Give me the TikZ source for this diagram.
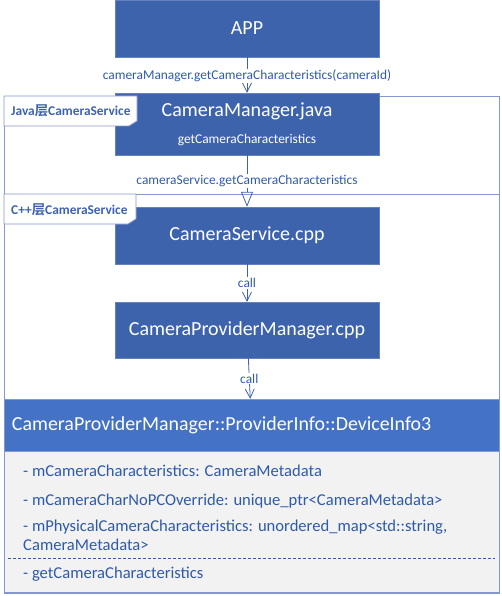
\documentclass[tikz,border=0pt]{standalone}
\usepackage{fontspec}
\setmainfont{Carlito}
\newfontfamily\cjk[BoldFont={Noto Sans CJK SC Bold}]{Noto Sans CJK SC}
\usetikzlibrary{arrows.meta}
\definecolor{unitblue}{RGB}{62,99,173}
\definecolor{headblue}{RGB}{68,114,196}
\definecolor{framec}{RGB}{132,152,206}
\definecolor{textblue}{RGB}{47,90,170}
\definecolor{bodygray}{RGB}{242,242,242}
\tikzstyle{unit}=[rectangle, fill=unitblue, draw=unitblue!80!white, text=white, minimum width=264pt, inner sep=0pt, font=\fontsize{20}{24}\selectfont]
\tikzstyle{calllabel}=[fill=white, text=textblue, inner sep=1pt, font=\fontsize{13.4}{15}\selectfont]
\tikzstyle{member}=[anchor=west, text=textblue, inner sep=0pt, font=\fontsize{16.6}{19}\selectfont]
\tikzstyle{tablabel}=[anchor=west, text=unitblue, inner sep=0pt, font=\bfseries\fontsize{13.4}{15}\selectfont]
\tikzstyle{call}=[draw=unitblue, thick, -{Straight Barb[length=9pt,width=9pt]}]
\newcommand{\unit}{\node[unit]}
\newcommand{\member}{\node[member]}

\begin{document}
\begin{tikzpicture}[x=1pt, y=-1pt]
            \useasboundingbox (0,0) rectangle (501,596);
            % frames
            \draw[framec, thick] (4,96) rectangle (499,194);
            \draw[framec, thick] (4,194) rectangle (499,593);
            % boxes
            \unit[minimum height=57pt] (app) at (247,28.5) {APP};
            \unit[minimum height=62pt, align=center] (manager) at (247,124) {CameraManager.java\\[3pt]{\fontsize{13.4}{15}\selectfont getCameraCharacteristics}};
            \unit[minimum height=57pt] (service) at (247,235.5) {CameraService.cpp};
            \unit[minimum height=56pt] (provider) at (247,330) {CameraProviderManager.cpp};
            \node[rectangle, fill=headblue, draw=framec, text=white, minimum width=495pt, minimum height=52pt, text width=479pt, inner xsep=8pt, align=left, font=\fontsize{19.9}{23}\selectfont] (devinfo) at (251.5,425) {CameraProviderManager::ProviderInfo::DeviceInfo3};
            \node[rectangle, fill=bodygray, draw=framec, minimum width=495pt, minimum height=141pt, anchor=north] (members) at (devinfo.south) {};
            \member (chars) at (23,471) {- mCameraCharacteristics: CameraMetadata};
            \member (nopc) at (23,501) {- mCameraCharNoPCOverride: unique\_ptr<CameraMetadata>};
            \member (physical) at (23,527) {- mPhysicalCameraCharacteristics: unordered\_map<std::string,};
            \member (physical2) at (23,545) {CameraMetadata>};
            \coordinate (sepl) at (8,558);
            \coordinate (sepr) at (495,558);
            \draw[textblue, dash pattern=on 3pt off 2pt] (sepl) -- (sepr);
            \member (method) at (23,574) {- getCameraCharacteristics};
            % tabs on top of the boxes
            \draw[framec, thick, fill=white] (4,96) -- (137,96) -- (137,121) -- (129,126) -- (4,126) -- cycle;
            \draw[framec, thick, fill=white] (4,194) -- (136,194) -- (136,219) -- (128,224) -- (4,224) -- cycle;
            \node[tablabel] (java) at (11,111) {Java{\cjk\bfseries 层}CameraService};
            \node[tablabel] (cpp) at (11,210) {C++{\cjk\bfseries 层}CameraService};
            % calls
            \path
                (app) edge[call] node[calllabel, pos=0.52] (l1) {cameraManager.getCameraCharacteristics(cameraId)} (manager)
                (manager) edge[draw=unitblue, thick, -{Triangle[open,length=15pt,width=12pt]}] node[calllabel, pos=0.5] (l2) {cameraService.getCameraCharacteristics} (service)
                (service) edge[call] node[calllabel] (l3) {call} (provider)
                (provider) edge[call] node[calllabel] (l4) {call} (devinfo)
            ;
        \end{tikzpicture}
\end{document}
